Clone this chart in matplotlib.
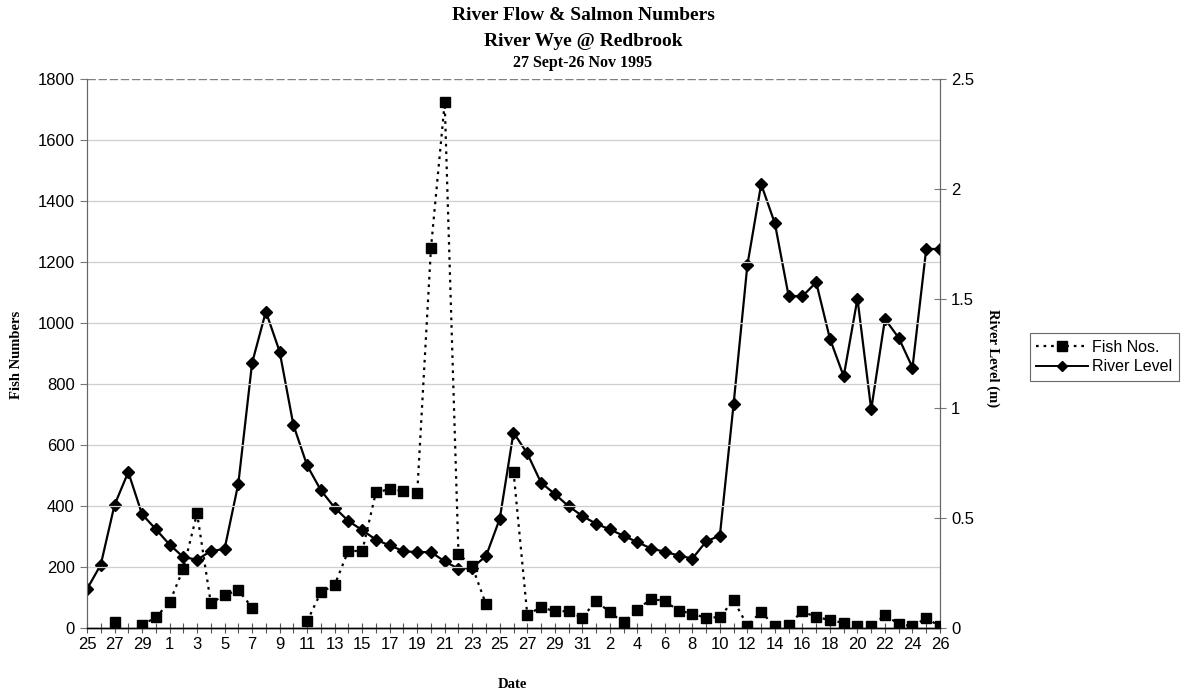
import numpy as np
import pandas as pd
import matplotlib
matplotlib.use("Agg")
import matplotlib.pyplot as plt
from matplotlib.lines import Line2D

# ---- data ----
dates = pd.date_range("1995-09-25", "1995-11-26", freq="D")
day_labels = [str(d.day) for d in dates]

fish_nos = [np.nan, np.nan, 20, np.nan, 10, 35, 84, 194, 376, 81,
            108, 124, 67, np.nan, np.nan, np.nan, 22, 117, 141, 254,
            251, 445, 455, 449, 441, 1245, 1723, 243, 202, 78,
            np.nan, 513, 44, 68, 55, 55, 33, 90, 51, 19,
            60, 96, 88, 57, 47, 33, 36, 91, 8, 53,
            5, 11, 55, 35, 27, 16, 5, 5, 41, 14,
            5, 33, 5]

river_level = [0.177, 0.288, 0.560, 0.710, 0.518, 0.450, 0.380, 0.323, 0.311, 0.350,
               0.360, 0.658, 1.207, 1.441, 1.259, 0.925, 0.740, 0.627, 0.548, 0.487,
               0.446, 0.402, 0.376, 0.350, 0.345, 0.346, 0.303, 0.270, 0.275, 0.327,
               0.497, 0.890, 0.795, 0.662, 0.610, 0.555, 0.510, 0.475, 0.449, 0.420,
               0.391, 0.362, 0.347, 0.330, 0.316, 0.394, 0.421, 1.021, 1.653, 2.021,
               1.842, 1.511, 1.511, 1.574, 1.317, 1.146, 1.500, 0.995, 1.407, 1.321,
               1.186, 1.726, 1.726]

left_ticks = [0, 200, 400, 600, 800, 1000, 1200, 1400, 1600, 1800]
right_ticks = [0, 0.5, 1, 1.5, 2, 2.5]
right_tick_labels = ["0", "0.5", "1", "1.5", "2", "2.5"]

title_lines = ["River Flow & Salmon Numbers", "River Wye @ Redbrook", "27 Sept-26 Nov 1995"]

# ---- figure ----
W, H = 1183, 693
fig = plt.figure(figsize=(W / 100, H / 100), dpi=100)
fig.patch.set_facecolor("white")

sans = ["Liberation Sans", "DejaVu Sans"]
serif = ["Liberation Serif", "DejaVu Serif"]

L, R, T, B = 87, 940, 79, 628
ax = fig.add_axes([L / W, 1 - B / H, (R - L) / W, (B - T) / H])
ax2 = ax.twinx()

x = np.arange(len(dates))

# gridlines
for v in left_ticks[1:-1]:
    ax.axhline(v, color="#cfcfcf", lw=0.9, zorder=0)
ax.axhline(1800, color="#808080", lw=1.0, ls=(0, (6, 2)), zorder=0)

ax.plot(x, fish_nos, color="black", ls=(0, (1.2, 2.2)), lw=1.6,
        marker="s", ms=7, mfc="black", mec="black", zorder=3)
ax2.plot(x, river_level, color="black", ls="-", lw=1.6,
         marker="D", ms=6, mfc="black", mec="black", zorder=3)

ax.set_xlim(0, len(dates) - 1)
ax.set_ylim(0, 1800)
ax2.set_ylim(0, 2.5)

ax.set_xticks(x[::2])
ax.set_xticklabels(day_labels[::2], fontfamily=sans, fontsize=12)
ax.set_xticks(x, minor=True)
ax.tick_params(axis="x", which="both", direction="inout", length=7, width=0.8,
               color="#555555", pad=3)
ax.set_yticks(left_ticks)
ax.set_yticklabels([str(v) for v in left_ticks], fontfamily=sans, fontsize=12)
ax.tick_params(axis="y", direction="out", length=5, width=0.8, color="#777777", pad=4)

ax2.set_yticks(right_ticks)
ax2.set_yticklabels(right_tick_labels, fontfamily=sans, fontsize=12)
ax2.tick_params(axis="y", direction="inout", length=8, width=0.8, color="#777777", pad=4)

for a in (ax, ax2):
    a.spines["top"].set_visible(False)
    a.spines["left"].set_color("#666666")
    a.spines["left"].set_linewidth(0.8)
    a.spines["right"].set_color("#666666")
    a.spines["right"].set_linewidth(0.8)
    a.spines["bottom"].set_color("black")
    a.spines["bottom"].set_linewidth(1.0)
ax.set_zorder(ax2.get_zorder() + 1)
ax.patch.set_visible(False)

# titles
fig.text(583 / W, 1 - 15 / H, title_lines[0], ha="center", va="center",
         fontfamily=serif, fontweight="bold", fontsize=14)
fig.text(583 / W, 1 - 41 / H, title_lines[1], ha="center", va="center",
         fontfamily=serif, fontweight="bold", fontsize=14)
fig.text(583 / W, 1 - 63 / H, title_lines[2], ha="center", va="center",
         fontfamily=serif, fontweight="bold", fontsize=11.5)

fig.text(17 / W, 1 - 355 / H, "Fish Numbers", rotation=90, ha="center", va="center",
         fontfamily=serif, fontweight="bold", fontsize=10.5)
fig.text(993 / W, 1 - 358 / H, "River Level (m)", rotation=270, ha="center", va="center",
         fontfamily=serif, fontweight="bold", fontsize=10.5)
fig.text(512 / W, 1 - 684 / H, "Date", ha="center", va="center",
         fontfamily=serif, fontweight="bold", fontsize=10.5)

# legend
handles = [
    Line2D([], [], color="black", ls=(0, (1.2, 2.2)), lw=1.6, marker="s", ms=7),
    Line2D([], [], color="black", ls="-", lw=1.4, marker="D", ms=5),
]
leg = fig.legend(handles, ["Fish Nos.", "River Level"], loc="center left",
                 bbox_to_anchor=(1030 / W, 1 - 357 / H), borderaxespad=0,
                 frameon=True, fancybox=False,
                 edgecolor="#444444", prop={"family": sans, "size": 11.5},
                 handlelength=3.2, handletextpad=0.3, borderpad=0.4, labelspacing=0.3)
leg.get_frame().set_linewidth(0.8)

fig.savefig("out.png", dpi=100, facecolor="white")
